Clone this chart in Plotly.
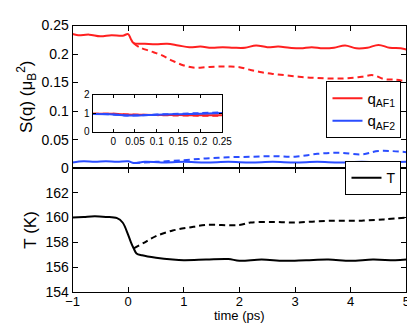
import plotly.graph_objects as go

# ---- data ----
t_af1 = [-1, -0.9, -0.7, -0.5, -0.3, -0.1, 0.0, 0.05, 0.1, 0.3, 0.5, 0.7, 0.9, 1.1, 1.3, 1.5, 1.7,
         1.9, 2.1, 2.3, 2.5, 2.7, 2.9, 3.1, 3.3, 3.5, 3.7, 3.9, 4.1, 4.3, 4.5, 4.7, 4.9, 5.0]
s_af1 = [0.235, 0.233, 0.234, 0.231, 0.233, 0.232, 0.235, 0.226, 0.219, 0.218, 0.217, 0.218, 0.215,
         0.212, 0.213, 0.211, 0.212, 0.211, 0.211, 0.215, 0.212, 0.213, 0.211, 0.210, 0.212, 0.210,
         0.211, 0.215, 0.210, 0.211, 0.216, 0.211, 0.210, 0.208]

t_af1_d = [0.1, 0.2, 0.4, 0.6, 0.8, 1.0, 1.2, 1.4, 1.6, 1.8, 2.0, 2.2, 2.4, 2.6, 2.8, 3.0, 3.2, 3.4,
           3.6, 3.8, 4.0, 4.2, 4.4, 4.6, 4.8, 5.0]
s_af1_d = [0.219, 0.212, 0.205, 0.198, 0.188, 0.180, 0.176, 0.177, 0.178, 0.178, 0.177, 0.172, 0.168,
           0.165, 0.163, 0.161, 0.159, 0.158, 0.157, 0.157, 0.158, 0.160, 0.163, 0.156, 0.155, 0.152]

t_af2 = [-1, -0.8, -0.6, -0.4, -0.2, 0.0, 0.1, 0.3, 0.6, 1.0, 1.4, 1.8, 2.2, 2.6, 3.0, 3.4, 3.8,
         4.2, 4.6, 5.0]
s_af2 = [0.010, 0.012, 0.011, 0.012, 0.011, 0.012, 0.009, 0.011, 0.010, 0.011, 0.010, 0.011, 0.010,
         0.011, 0.010, 0.011, 0.010, 0.011, 0.010, 0.011]

t_af2_d = [0.1, 0.5, 1.0, 1.4, 1.8, 2.2, 2.6, 3.0, 3.4, 3.8, 4.2, 4.5, 5.0]
s_af2_d = [0.009, 0.011, 0.014, 0.017, 0.019, 0.020, 0.021, 0.020, 0.025, 0.027, 0.024, 0.030, 0.028]

t_T = [-1, -0.8, -0.6, -0.4, -0.2, -0.1, 0.0, 0.05, 0.1, 0.15, 0.25, 0.5, 0.8, 1.0, 1.4, 1.8, 2.0,
       2.4, 2.8, 3.2, 3.6, 4.0, 4.4, 4.8, 5.0]
T_sol = [160.0, 160.05, 160.1, 160.05, 159.95, 159.6, 158.6, 158.0, 157.5, 157.1, 156.95, 156.75,
         156.6, 156.55, 156.6, 156.65, 156.5, 156.6, 156.5, 156.55, 156.6, 156.5, 156.6, 156.55, 156.6]

t_T_d = [0.1, 0.3, 0.5, 0.8, 1.1, 1.4, 2.0, 2.2, 2.6, 3.0, 3.4, 3.8, 4.2, 4.6, 5.0]
T_dash = [157.5, 158.0, 158.5, 158.95, 159.2, 159.4, 159.4, 159.6, 159.65, 159.6, 159.7, 159.75,
          159.75, 159.85, 160.0]

# inset (normalised)
t_in = [-0.047, 0.0, 0.03, 0.06, 0.1, 0.15, 0.2, 0.25]
in_af1 = [0.98, 0.98, 0.95, 0.93, 0.92, 0.91, 0.90, 0.90]
in_af1_d = [0.98, 0.98, 0.95, 0.93, 0.91, 0.89, 0.88, 0.87]
in_af2 = [0.97, 0.95, 0.89, 0.89, 0.93, 0.96, 0.99, 1.03]
in_af2_d = [0.97, 0.95, 0.89, 0.90, 0.94, 0.98, 1.02, 1.06]

RED = "#ff2020"
BLUE = "#2a4dff"
FONT = "Liberation Sans, Arial, sans-serif"
DASH = "6px,4px"

fig = go.Figure()

# top panel
fig.add_trace(go.Scatter(x=t_af1, y=s_af1, mode="lines", line=dict(color=RED, width=2, shape="spline"),
                         name="q<sub>AF1</sub>", xaxis="x2", yaxis="y2", legend="legend"))
fig.add_trace(go.Scatter(x=t_af1_d, y=s_af1_d, mode="lines",
                         line=dict(color=RED, width=2, dash=DASH, shape="spline"),
                         showlegend=False, xaxis="x2", yaxis="y2"))
fig.add_trace(go.Scatter(x=t_af2, y=s_af2, mode="lines", line=dict(color=BLUE, width=2, shape="spline"),
                         name="q<sub>AF2</sub>", xaxis="x2", yaxis="y2", legend="legend"))
fig.add_trace(go.Scatter(x=t_af2_d, y=s_af2_d, mode="lines",
                         line=dict(color=BLUE, width=2, dash=DASH, shape="spline"),
                         showlegend=False, xaxis="x2", yaxis="y2"))

# bottom panel
fig.add_trace(go.Scatter(x=t_T, y=T_sol, mode="lines", line=dict(color="black", width=2, shape="spline"),
                         name="T", xaxis="x", yaxis="y", legend="legend2"))
fig.add_trace(go.Scatter(x=t_T_d, y=T_dash, mode="lines",
                         line=dict(color="black", width=2, dash=DASH, shape="spline"),
                         showlegend=False, xaxis="x", yaxis="y"))

# inset
for yy, col, dash in [(in_af1, RED, None), (in_af1_d, RED, DASH), (in_af2, BLUE, None), (in_af2_d, BLUE, DASH)]:
    fig.add_trace(go.Scatter(x=t_in, y=yy, mode="lines",
                             line=dict(color=col, width=2, dash=dash, shape="spline"),
                             showlegend=False, xaxis="x3", yaxis="y3"))

ax = dict(showgrid=False, zeroline=False, showline=True, linecolor="black", linewidth=1,
          mirror="ticks", ticks="inside", ticklen=5, tickcolor="black",
          tickfont=dict(family=FONT, size=14, color="black"))

xd = [60 / 415, 408 / 415]
fig.update_layout(
    width=415, height=325,
    margin=dict(l=0, r=0, t=0, b=0),
    paper_bgcolor="white", plot_bgcolor="white",
    font=dict(family=FONT, size=14, color="black"),
    xaxis=dict(ax, domain=xd, range=[-1, 5], dtick=1, anchor="y", ticklabelstandoff=-2,
               tickfont=dict(family=FONT, size=13, color="black")),
    yaxis=dict(ax, domain=[1 - 290 / 325, 1 - 160 / 325], range=[154, 164], tickvals=[154, 156, 158, 160, 162],
               anchor="x", title=dict(text="T (K)", standoff=4)),
    xaxis2=dict(ax, domain=xd, range=[-1, 5], dtick=1, anchor="y2", showticklabels=False),
    yaxis2=dict(ax, domain=[1 - 160 / 325, 1 - 10 / 325], range=[0, 0.25], dtick=0.05, anchor="x2",
                title=dict(text="S(q) (μ<sub>B</sub><sup>2</sup>)", standoff=4)),
    xaxis3=dict(ax, domain=[81 / 415, 216 / 415], range=[-0.047, 0.25], tickvals=[0, 0.05, 0.1, 0.15, 0.2, 0.25],
                ticktext=["0", "0.05", "0.1", "0.15", "0.2", "0.25"], anchor="y3", ticklen=3,
                tickfont=dict(family=FONT, size=10, color="black")),
    yaxis3=dict(ax, domain=[1 - 122 / 325, 1 - 83 / 325], range=[0, 2], tickvals=[0, 1, 2], anchor="x3",
                ticklen=3, tickfont=dict(family=FONT, size=10, color="black")),
    legend=dict(x=403 / 415, y=0.79, xanchor="right", yanchor="top", bgcolor="white",
                bordercolor="black", borderwidth=1, font=dict(size=15)),
    legend2=dict(x=403 / 415, y=0.53, xanchor="right", yanchor="top", bgcolor="white",
                 bordercolor="black", borderwidth=1, font=dict(size=14)),
    annotations=[dict(text="time (ps)", xref="paper", yref="paper", x=234 / 415, y=0,
                      xanchor="center", yanchor="bottom", showarrow=False, font=dict(size=13))],
)

fig.write_html("out.html")
